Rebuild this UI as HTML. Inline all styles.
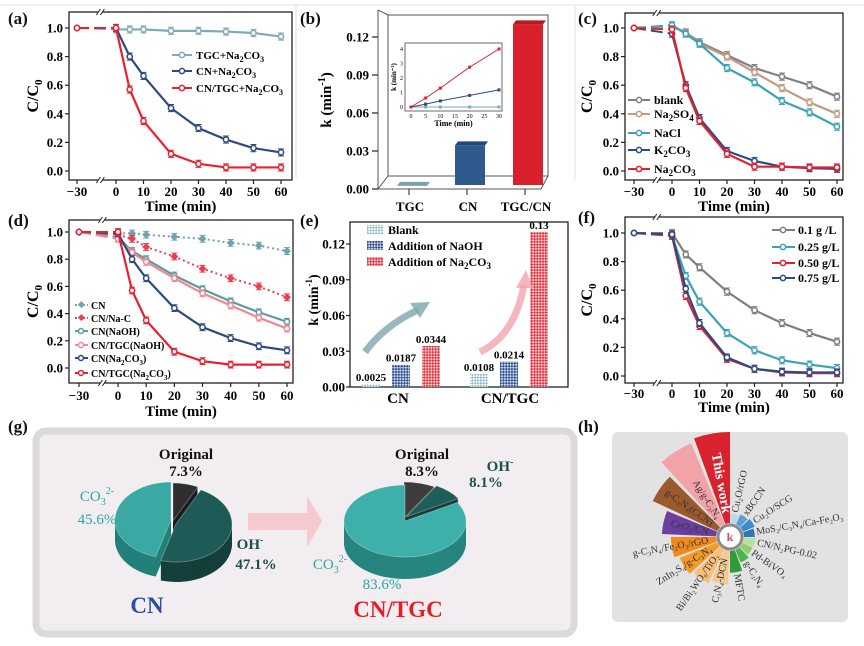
<!DOCTYPE html>
<html><head><meta charset="utf-8"><style>
body{margin:0;background:#fff}
svg{display:block;font-family:"Liberation Serif",serif}
.b{font-weight:bold}
</style></head><body>
<svg id="fig" width="864" height="646" viewBox="0 0 864 646" xmlns="http://www.w3.org/2000/svg">
<defs>
<pattern id="pBlank" width="4" height="4" patternUnits="userSpaceOnUse" patternTransform="rotate(45)"><rect width="4" height="4" fill="#fff"/><rect width="2" height="2" fill="#8fbac4"/><rect x="2" y="2" width="2" height="2" fill="#8fbac4"/></pattern>
<pattern id="pNaOH" width="4" height="4" patternUnits="userSpaceOnUse" patternTransform="rotate(45)"><rect width="4" height="4" fill="#c8d3e8"/><rect width="2" height="2" fill="#2f4f8f"/><rect x="2" y="2" width="2" height="2" fill="#2f4f8f"/></pattern>
<pattern id="pNa2CO3" width="4" height="4" patternUnits="userSpaceOnUse" patternTransform="rotate(45)"><rect width="4" height="4" fill="#f6c9cc"/><rect width="2" height="2" fill="#e0303c"/><rect x="2" y="2" width="2" height="2" fill="#e0303c"/></pattern>
</defs>
<rect width="864" height="646" fill="#fff"/>
<g stroke="#e2e2e2" stroke-width="1" fill="none">
<line x1="0" y1="5" x2="864" y2="5"/><line x1="296" y1="5" x2="296" y2="180"/><line x1="575" y1="5" x2="575" y2="180"/>
</g>
<g class="b" font-size="17" fill="#111">
<text x="8" y="24">(a)</text>
<text x="300" y="24">(b)</text>
<text x="578" y="24">(c)</text>
<text x="8" y="226">(d)</text>
<text x="300" y="226">(e)</text>
<text x="578" y="223">(f)</text>
<text x="8" y="432">(g)</text>
<text x="578" y="432">(h)</text>
</g>
<g id="pa"></g>
<g id="pb"></g>
<g id="pc"></g>
<g id="pd"></g>
<g id="pe"></g>
<g id="pf"></g>

<g class="b" font-size="11">
<line x1="172" y1="55" x2="192" y2="55" stroke="#7fa9b3" stroke-width="2"/><circle cx="182" cy="55" r="2.6" fill="#fff" stroke="#7fa9b3" stroke-width="1.5"/>
<text x="196" y="59">TGC+Na<tspan dy="3" font-size="8">2</tspan><tspan dy="-3">CO</tspan><tspan dy="3" font-size="8">3</tspan></text>
<line x1="172" y1="71" x2="192" y2="71" stroke="#2f4a80" stroke-width="2"/><circle cx="182" cy="71" r="2.6" fill="#fff" stroke="#2f4a80" stroke-width="1.5"/>
<text x="196" y="75">CN+Na<tspan dy="3" font-size="8">2</tspan><tspan dy="-3">CO</tspan><tspan dy="3" font-size="8">3</tspan></text>
<line x1="172" y1="88" x2="192" y2="88" stroke="#e8202e" stroke-width="2"/><circle cx="182" cy="88" r="2.6" fill="#fff" stroke="#e8202e" stroke-width="1.5"/>
<text x="196" y="92">CN/TGC+Na<tspan dy="3" font-size="8">2</tspan><tspan dy="-3">CO</tspan><tspan dy="3" font-size="8">3</tspan></text>
</g>
<g class="b" font-size="12">
<line x1="628" y1="100" x2="650" y2="100" stroke="#808080" stroke-width="2"/><circle cx="639" cy="100" r="2.6" fill="#fff" stroke="#808080" stroke-width="1.5"/><text x="654" y="104">blank</text>
<line x1="628" y1="114" x2="650" y2="114" stroke="#c39a82" stroke-width="2"/><circle cx="639" cy="114" r="2.6" fill="#fff" stroke="#c39a82" stroke-width="1.5"/><text x="654" y="118">Na<tspan dy="3" font-size="9">2</tspan><tspan dy="-3">SO</tspan><tspan dy="3" font-size="9">4</tspan></text>
<line x1="628" y1="133" x2="650" y2="133" stroke="#3aa3b5" stroke-width="2"/><circle cx="639" cy="133" r="2.6" fill="#fff" stroke="#3aa3b5" stroke-width="1.5"/><text x="654" y="137">NaCl</text>
<line x1="628" y1="150" x2="650" y2="150" stroke="#2b4a86" stroke-width="2"/><circle cx="639" cy="150" r="2.6" fill="#fff" stroke="#2b4a86" stroke-width="1.5"/><text x="654" y="154">K<tspan dy="3" font-size="9">2</tspan><tspan dy="-3">CO</tspan><tspan dy="3" font-size="9">3</tspan></text>
<line x1="628" y1="169" x2="650" y2="169" stroke="#e3202c" stroke-width="2"/><circle cx="639" cy="169" r="2.6" fill="#fff" stroke="#e3202c" stroke-width="1.5"/><text x="654" y="173">Na<tspan dy="3" font-size="9">2</tspan><tspan dy="-3">CO</tspan><tspan dy="3" font-size="9">3</tspan></text>
</g>
<g class="b" font-size="10">
<line x1="75" y1="305" x2="88" y2="305" stroke="#6ea3ad" stroke-width="2" stroke-dasharray="2,2"/><rect x="78.5" y="302" width="5" height="5" fill="#6ea3ad" transform="rotate(45 81 305)"/><text x="91" y="309">CN</text>
<line x1="75" y1="318" x2="88" y2="318" stroke="#e8404e" stroke-width="2" stroke-dasharray="2,2"/><rect x="78.5" y="315" width="5" height="5" fill="#e8404e" transform="rotate(45 81 318)"/><text x="91" y="322">CN/Na-C</text>
<line x1="75" y1="331" x2="88" y2="331" stroke="#5a9aa5" stroke-width="2"/><circle cx="81" cy="331" r="2.5" fill="#fff" stroke="#5a9aa5" stroke-width="1.5"/><text x="91" y="335">CN(NaOH)</text>
<line x1="75" y1="345" x2="88" y2="345" stroke="#f08a90" stroke-width="2"/><circle cx="81" cy="345" r="2.5" fill="#fff" stroke="#f08a90" stroke-width="1.5"/><text x="91" y="349">CN/TGC(NaOH)</text>
<line x1="75" y1="358" x2="88" y2="358" stroke="#2f4a80" stroke-width="2"/><circle cx="81" cy="358" r="2.5" fill="#fff" stroke="#2f4a80" stroke-width="1.5"/><text x="91" y="362">CN(Na<tspan dy="3" font-size="7">2</tspan><tspan dy="-3">CO</tspan><tspan dy="3" font-size="7">3</tspan><tspan dy="-3">)</tspan></text>
<line x1="75" y1="373" x2="88" y2="373" stroke="#e8202e" stroke-width="2"/><circle cx="81" cy="373" r="2.5" fill="#fff" stroke="#e8202e" stroke-width="1.5"/><text x="91" y="377">CN/TGC(Na<tspan dy="3" font-size="7">2</tspan><tspan dy="-3">CO</tspan><tspan dy="3" font-size="7">3</tspan><tspan dy="-3">)</tspan></text>
</g>
<g class="b" font-size="12">
<line x1="772" y1="230" x2="795" y2="230" stroke="#7f7f7f" stroke-width="2"/><circle cx="783" cy="230" r="2.6" fill="#fff" stroke="#7f7f7f" stroke-width="1.5"/><text x="798" y="234">0.1 g /L</text>
<line x1="772" y1="247" x2="795" y2="247" stroke="#3aa3b5" stroke-width="2"/><circle cx="783" cy="247" r="2.6" fill="#fff" stroke="#3aa3b5" stroke-width="1.5"/><text x="798" y="251">0.25 g/L</text>
<line x1="772" y1="263" x2="795" y2="263" stroke="#e3202c" stroke-width="2"/><circle cx="783" cy="263" r="2.6" fill="#fff" stroke="#e3202c" stroke-width="1.5"/><text x="798" y="267">0.50 g/L</text>
<line x1="772" y1="278" x2="795" y2="278" stroke="#2b4a86" stroke-width="2"/><circle cx="783" cy="278" r="2.6" fill="#fff" stroke="#2b4a86" stroke-width="1.5"/><text x="798" y="282">0.75 g/L</text>
</g>
<g class="b" font-size="12">
<rect x="367" y="225" width="16" height="9" fill="url(#pBlank)"/><text x="388" y="234">Blank</text>
<rect x="367" y="241" width="16" height="9" fill="url(#pNaOH)"/><text x="388" y="250">Addition of NaOH</text>
<rect x="367" y="257" width="16" height="9" fill="url(#pNa2CO3)"/><text x="388" y="266">Addition of Na<tspan dy="3" font-size="9">2</tspan><tspan dy="-3">CO</tspan><tspan dy="3" font-size="9">3</tspan></text>
</g>
<g>
<path d="M365,352 Q385,325 418,310" fill="none" stroke="#7fa6ab" stroke-width="7" opacity="0.8"/>
<polygon points="430,302 410,303 420,318" fill="#7fa6ab" opacity="0.8"/>
<path d="M480,352 Q515,335 524,285" fill="none" stroke="#f2a4ad" stroke-width="7" opacity="0.8"/>
<polygon points="526,270 516,288 533,288" fill="#f2a4ad" opacity="0.8"/>
</g>

<rect x="36" y="431" width="538" height="203" rx="10" fill="#f2edf0" stroke="#dadada" stroke-width="7"/>
<g id="pg"></g>
<polygon points="248,513 307,513 307,496 322,521 307,547 307,530 248,530" fill="#f6c9cf"/>
<g class="b" font-size="15">
<text x="186" y="459" text-anchor="middle" fill="#111">Original</text>
<text x="186" y="476" text-anchor="middle" fill="#111">7.3%</text>
<text x="97" y="501" text-anchor="middle" fill="#2aa7a0" font-weight="normal">CO<tspan dy="4" font-size="10">3</tspan><tspan dy="-11" font-size="10">2-</tspan></text>
<text x="97" y="524" text-anchor="middle" fill="#2aa7a0" font-weight="normal">45.6%</text>
<text x="250" y="549" text-anchor="middle" fill="#1d4f4b">OH<tspan dy="-6" font-size="10">-</tspan></text>
<text x="256" y="569" text-anchor="middle" fill="#1d4f4b">47.1%</text>
<text x="422" y="459" text-anchor="middle" fill="#111">Original</text>
<text x="422" y="476" text-anchor="middle" fill="#111">8.3%</text>
<text x="500" y="471" text-anchor="middle" fill="#1d4f4b">OH<tspan dy="-6" font-size="10">-</tspan></text>
<text x="486" y="487" text-anchor="middle" fill="#1d4f4b">8.1%</text>
<text x="330" y="569" text-anchor="middle" fill="#2aa7a0" font-weight="normal">CO<tspan dy="4" font-size="10">3</tspan><tspan dy="-11" font-size="10">2-</tspan></text>
<text x="382" y="589" text-anchor="middle" fill="#2aa7a0" font-weight="normal">83.6%</text>
<text x="147" y="613" text-anchor="middle" fill="#2b4f9e" font-size="23">CN</text>
<text x="398" y="617" text-anchor="middle" fill="#e81c24" font-size="23">CN/TGC</text>
</g>

<rect x="612" y="432" width="236" height="190" rx="6" fill="#e2e2e2"/>
<g id="ph"></g>
</svg>
<script>
const SVGNS='http://www.w3.org/2000/svg';
function mk(tag,o,parent){const e=document.createElementNS(SVGNS,tag);for(const k in o)e.setAttribute(k,o[k]);parent.appendChild(e);return e;}

const times=[-30,0,5,10,20,30,40,50,60];
const yTicks=[0,0.2,0.4,0.6,0.8,1.0];
const xTicks=[-30,0,10,20,30,40,50,60];
const aTGC=[1,0.99,0.99,0.99,0.98,0.98,0.975,0.965,0.94];
const aCN=[1,1,0.8,0.665,0.44,0.3,0.22,0.16,0.13];
const aCNTGC=[1,1,0.57,0.35,0.12,0.05,0.025,0.025,0.025];
const cBlank=[1,1.01,0.97,0.9,0.81,0.72,0.66,0.6,0.52];
const cNa2SO4=[1,1.01,0.97,0.89,0.8,0.69,0.58,0.48,0.4];
const cNaCl=[1,1.02,0.96,0.89,0.72,0.62,0.49,0.41,0.31];
const cK2CO3=[1,0.96,0.6,0.37,0.14,0.07,0.03,0.02,0.015];
const cNa2CO3=[1,0.99,0.58,0.35,0.12,0.03,0.03,0.025,0.025];
const dCN=[1,0.99,0.99,0.98,0.965,0.95,0.92,0.9,0.86];
const dCNNaC=[1,0.98,0.95,0.89,0.82,0.73,0.66,0.6,0.52];
const dCNNaOH=[1,0.96,0.86,0.8,0.68,0.58,0.49,0.41,0.34];
const dCNTGCNaOH=[1,0.95,0.85,0.78,0.66,0.55,0.46,0.37,0.29];
const dCNNa2CO3=[1,0.99,0.8,0.66,0.44,0.3,0.22,0.16,0.13];
const dCNTGCNa2CO3=[1,1,0.57,0.35,0.12,0.05,0.025,0.025,0.025];
const f01=[1,1,0.85,0.76,0.59,0.46,0.37,0.3,0.24];
const f025=[1,0.98,0.7,0.52,0.3,0.18,0.11,0.08,0.055];
const f050=[1,0.98,0.56,0.35,0.12,0.05,0.025,0.02,0.02];
const f075=[1,0.99,0.61,0.37,0.13,0.05,0.03,0.025,0.025];
const bCats=['TGC','CN','TGC/CN'];
const bK=[0.0025,0.0344,0.13];
const bTicks=[0,0.03,0.06,0.09,0.12];
const insetT=[0,5,10,20,30];
const insetRed=[0,0.62,1.3,2.75,4.0];
const insetNavy=[0,0.2,0.42,0.8,1.18];
const insetTeal=[0,0,0,0,0];
const eGroups=['CN','CN/TGC'];
const eBlank=[0.0025,0.0108];
const eNaOH=[0.0187,0.0214];
const eNa2CO3=[0.0344,0.13];
const eBlankLbl=['0.0025','0.0108'];
const eNaOHLbl=['0.0187','0.0214'];
const eNa2CO3Lbl=['0.0344','0.13'];
const pieCN=[7.3,47.1,45.6];
const pieCNTGC=[8.3,8.1,83.6];
const roseNames=['This work','Cu₂O/rGO','xBCCN','Cu₂O/SCG','MoS₂/C₃N₄/Ca-Fe₂O₃','CN/N₂PG-0.02','Pd-BiVO₄','g-C₃N₄','MFTC','C₃N₄-DCN','Bi/Bi₂WO₆/TiO₂','ZnIn₂S₄/g-C₃N₄','g-C₃N₄/Fe₂O₃/rGO','CeO₂/CN','g-C₃N₄(CCN)','Ag/g-C₃N₄'];
const roseK=[1.0,0.09,0.11,0.13,0.11,0.12,0.11,0.14,0.23,0.36,0.4,0.44,0.49,0.59,0.78,0.96];

function lineChart(gid,P,series){
  const g=document.getElementById(gid);
  const xs=t=>t<0?P.xm+(t+30)/30*(P.x0-P.xm):P.x0+t/60*(P.x60-P.x0);
  const ys=v=>P.y0+v*(P.y1-P.y0);
  const fr=mk('rect',{x:P.L,y:P.T,width:P.R-P.L,height:P.B-P.T,fill:'none',stroke:'#222','stroke-width':1.3},g);
  
  
  yTicks.forEach(v=>{
    const tk=mk('line',{x1:P.L-4,x2:P.L,y1:ys(v),y2:ys(v),stroke:'#222','stroke-width':1.2},g);
    
    
    const tl=mk('text',{x:P.L-6,y:ys(v)+4.5,'text-anchor':'end','font-size':13,'font-weight':'bold'},g);
    tl.textContent=v.toFixed(1);
    
    
  });
  xTicks.forEach(t=>{
    const tk=mk('line',{x1:xs(t),x2:xs(t),y1:P.B,y2:P.B+4,stroke:'#222','stroke-width':1.2},g);
    
    
    const tl=mk('text',{x:xs(t),y:P.lab,'text-anchor':'middle','font-size':13,'font-weight':'bold'},g);
    tl.textContent=t<0?'\u221230':String(t);
    
    
  });
  const bx=P.xm+0.6*(P.x0-P.xm);
  [P.T,P.B].forEach(yy=>{
    const w=mk('rect',{x:bx-2,y:yy-2,width:4,height:4,fill:'#fff'},g);
    
    
    const br=mk('path',{d:`M${bx-4},${yy+3}L${bx},${yy-3}M${bx},${yy+3}L${bx+4},${yy-3}`,stroke:'#222','stroke-width':1,fill:'none'},g);
    
    
  });
  const xt=mk('text',{x:(P.L+P.R)/2,y:P.tit,'text-anchor':'middle','font-size':15,'font-weight':'bold'},g);
  xt.textContent='Time (min)';
  
  
  const yt=mk('text',{x:0,y:0,'text-anchor':'middle','font-size':16,'font-weight':'bold',transform:`translate(${P.ytx},${(P.T+P.B)/2}) rotate(-90)`},g);
  yt.innerHTML='C/C<tspan dy="4" font-size="11">0</tspan>';
  
  
  series.forEach(s=>{
    const pts=times.map((t,i)=>[xs(t),ys(s.v[i])]);
    const d0=mk('line',{x1:pts[0][0],y1:pts[0][1],x2:pts[1][0],y2:pts[1][1],stroke:s.c,'stroke-width':2,'stroke-dasharray':'12,5'},g);
    
    
    const ln=mk('polyline',{points:pts.slice(1).map(p=>p.join(',')).join(' '),fill:'none',stroke:s.c,'stroke-width':s.dot?2:2.2,'stroke-dasharray':s.dot?'2,3':'none'},g);
    
    
    pts.forEach((p,i)=>{
      if(i>0){
        const e=mk('path',{d:`M${p[0]},${ys(s.v[i]+0.025)}V${ys(s.v[i]-0.025)}M${p[0]-3},${ys(s.v[i]+0.025)}h6M${p[0]-3},${ys(s.v[i]-0.025)}h6`,stroke:s.c,'stroke-width':1,fill:'none'},g);
        
        
      }
      let m;
      if(s.dot){m=mk('rect',{x:p[0]-2.8,y:p[1]-2.8,width:5.6,height:5.6,fill:s.c,transform:`rotate(45 ${p[0]} ${p[1]})`},g);}
      else{m=mk('circle',{cx:p[0],cy:p[1],r:2.6,fill:'#fff',stroke:s.c,'stroke-width':1.5},g);}
      
      
    });
  });
}
lineChart('pa',{L:69,R:292,T:12,B:180,xm:77,x0:116,x60:281,y0:171,y1:28,lab:196,tit:211,ytx:38},
  [{v:aTGC,c:'#7fa9b3'},{v:aCN,c:'#2f4a80'},{v:aCNTGC,c:'#e8202e'}]);
lineChart('pc',{L:625,R:843,T:13,B:180,xm:634,x0:672,x60:837,y0:171,y1:28,lab:196,tit:211,ytx:592},
  [{v:cBlank,c:'#808080'},{v:cNa2SO4,c:'#c39a82'},{v:cNaCl,c:'#3aa3b5'},{v:cK2CO3,c:'#2b4a86'},{v:cNa2CO3,c:'#e3202c'}]);
lineChart('pd',{L:69,R:293,T:220,B:383,xm:79,x0:118,x60:287,y0:368,y1:232,lab:400,tit:416,ytx:38},
  [{v:dCN,c:'#6ea3ad',dot:true},{v:dCNNaC,c:'#e8404e',dot:true},{v:dCNNaOH,c:'#5a9aa5'},{v:dCNTGCNaOH,c:'#f08a90'},{v:dCNNa2CO3,c:'#2f4a80'},{v:dCNTGCNa2CO3,c:'#e8202e'}]);
lineChart('pf',{L:625,R:843,T:217,B:383,xm:634,x0:672,x60:837,y0:376,y1:233,lab:398,tit:412,ytx:592},
  [{v:f01,c:'#7f7f7f'},{v:f025,c:'#3aa3b5'},{v:f050,c:'#e3202c'},{v:f075,c:'#2b4a86'}]);

(function(){
  const g=document.getElementById('pb');
  const yb=v=>189-v/0.03*38;
  const frame=mk('path',{d:'M378,10V189H541L548,176V15H388V176H548M388,176L378,189M378,10L388,15',fill:'none',stroke:'#555','stroke-width':1},g);
  
  
  bTicks.forEach(v=>{
    const tk=mk('line',{x1:372,x2:378,y1:yb(v),y2:yb(v),stroke:'#222','stroke-width':1.2},g);
    
    
    const tl=mk('text',{x:369,y:yb(v)+4.5,'text-anchor':'end','font-size':13,'font-weight':'bold'},g);
    tl.textContent=v.toFixed(2);
    
    
  });
  const yt=mk('text',{'text-anchor':'middle','font-size':15,'font-weight':'bold',transform:'translate(331,100) rotate(-90)'},g);
  yt.innerHTML='k (min<tspan dy="-6" font-size="10">-1</tspan><tspan dy="6">)</tspan>';
  
  
  const cols=['#5e8c97','#2f5a8e','#d9202b'],tops=['#7aa3ad','#25487a','#b81a24'];
  bCats.forEach((c,i)=>{
    const xc=412+i*58,w=30,x=xc-w/2,y=yb(bK[i]);
    const f=mk('rect',{x:x,y:y,width:w,height:189-4-y,fill:cols[i]},g);
    
    
    const tp=mk('polygon',{points:`${x},${y} ${x+w},${y} ${x+w+3},${y-4} ${x+3},${y-4}`,fill:tops[i]},g);
    
    
    const tk=mk('line',{x1:xc-3,x2:xc-3,y1:189,y2:195,stroke:'#222'},g);
    
    
    const tl=mk('text',{x:xc-2,y:211,'text-anchor':'middle','font-size':13,'font-weight':'bold'},g);
    tl.textContent=c;
    
    
  });
  const L=405,R=502,T=43,B=111;
  const ix=t=>L+6+t/30*(R-L-9), iy=v=>B-4-v/4*(B-T-10);
  const ir=mk('rect',{x:L,y:T,width:R-L,height:B-T,fill:'#fff',stroke:'#444','stroke-width':0.8},g);
  
  
  [0,5,10,15,20,25,30].forEach(t=>{
    const tl=mk('text',{x:ix(t),y:B+7,'text-anchor':'middle','font-size':6},g);
    tl.textContent=t;
    
    
  });
  [0,1,2,3,4].forEach(v=>{
    const tl=mk('text',{x:L-2,y:iy(v)+2,'text-anchor':'end','font-size':6},g);
    tl.textContent=v;
    
    
  });
  const ixt=mk('text',{x:(L+R)/2,y:B+15,'text-anchor':'middle','font-size':8,'font-weight':'bold'},g);
  ixt.textContent='Time (min)';
  
  
  const iyt=mk('text',{'text-anchor':'middle','font-size':7,'font-weight':'bold',transform:`translate(${L-9},${(T+B)/2}) rotate(-90)`},g);
  iyt.textContent='k (min⁻¹)';
  
  
  [[insetTeal,'#7fa9b3'],[insetNavy,'#2f4a80'],[insetRed,'#d9202b']].forEach(([arr,c])=>{
    const pl=mk('polyline',{points:insetT.map((t,i)=>ix(t)+','+iy(arr[i])).join(' '),fill:'none',stroke:c,'stroke-width':1},g);
    
    
    insetT.forEach((t,i)=>{
      const p=mk('rect',{x:ix(t)-1.5,y:iy(arr[i])-1.5,width:3,height:3,fill:c},g);
      
      
    });
  });
})();

(function(){
  const g=document.getElementById('pe');
  const L=350,R=568,T=222,B=387;
  const ye=v=>B-v/0.03*35.75;
  const fr=mk('rect',{x:L,y:T,width:R-L,height:B-T,fill:'none',stroke:'#222','stroke-width':1.3},g);
  
  
  bTicks.forEach(v=>{
    const tk=mk('line',{x1:L-4,x2:L,y1:ye(v),y2:ye(v),stroke:'#222','stroke-width':1.2},g);
    
    
    const tl=mk('text',{x:L-5,y:ye(v)+4.5,'text-anchor':'end','font-size':13,'font-weight':'bold'},g);
    tl.textContent=v.toFixed(2);
    
    
  });
  const yt=mk('text',{'text-anchor':'middle','font-size':14,'font-weight':'bold',transform:'translate(318,300) rotate(-90)'},g);
  yt.innerHTML='k (min<tspan dy="-6" font-size="9">-1</tspan><tspan dy="6">)</tspan>';
  
  
  const centers=[401,509];
  const sets=[[eBlank,eBlankLbl,'url(#pBlank)',-30,'blank'],[eNaOH,eNaOHLbl,'url(#pNaOH)',0,'naoh'],[eNa2CO3,eNa2CO3Lbl,'url(#pNa2CO3)',30,'na2co3']];
  eGroups.forEach((grp,gi)=>{
    sets.forEach(([vals,lbls,fill,off,nm])=>{
      const x=centers[gi]+off-9,y=ye(vals[gi]);
      const r=mk('rect',{x:x,y:y,width:18,height:B-y,fill:fill},g);
      
      
      const t=mk('text',{x:x+9,y:y-3,'text-anchor':'middle','font-size':11,'font-weight':'bold'},g);
      t.textContent=lbls[gi];
      
      
    });
    const cl=mk('text',{x:centers[gi]-3+(gi?4:0),y:403,'text-anchor':'middle','font-size':15,'font-weight':'bold'},g);
    cl.textContent=grp;
    
    
  });
})();

function pie(cx,cy,rx,ry,depth,vals,tops,sides,offs){
  const g=document.getElementById('pg');
  const tot=vals.reduce((a,b)=>a+b,0);
  let a=-Math.PI/2;const segs=[];
  vals.forEach((v,i)=>{const a2=a+v/tot*2*Math.PI;segs.push([a,a2]);a=a2;});
  const sector=(s,dy,i)=>{
    const [a1,a2]=s,ox=offs[i][0],oy=offs[i][1]+dy;
    const x1=cx+ox+rx*Math.cos(a1),y1=cy+oy+ry*Math.sin(a1),x2=cx+ox+rx*Math.cos(a2),y2=cy+oy+ry*Math.sin(a2);
    return `M${cx+ox},${cy+oy}L${x1},${y1}A${rx},${ry} 0 ${a2-a1>Math.PI?1:0} 1 ${x2},${y2}Z`;
  };
  for(let d=depth;d>0;d--){
    segs.forEach((s,i)=>{
      const p=mk('path',{d:sector(s,d,i),fill:sides[i]},g);
      
      
    });
  }
  segs.forEach((s,i)=>{
    const p=mk('path',{d:sector(s,0,i),fill:tops[i],stroke:'#ffffff','stroke-opacity':0.35,'stroke-width':0.8},g);
    
    
  });
}
pie(173,521,56,38,20,pieCN,['#2e2e2e','#1f5b56','#3aa9a3'],['#1a1a1a','#143f3b','#23807a'],[[0,0],[3,3],[-2,-1]]);
pie(404,518,61,36,22,pieCNTGC,['#3c3c3c','#1e5e58','#3db0aa'],['#222','#163f3b','#27857f'],[[0,0],[2,-1],[1,3]]);

(function(){
  const g=document.getElementById('ph');
  const cx=730,cy=537;
  const cols=['#d8232e','#bcd6ec','#5aa0d8','#3c8cc8','#2b78b8','#b8e0a0','#8fcf6f','#4db34a','#2e9a3c','#f4c890','#f6c07a','#f39a2a','#f08a1c','#6a3fa0','#9b5a2e','#f2a3a8'];
  const rs=v=>15+v*90;
  roseK.forEach((v,i)=>{
    const ac=-100+i*22.5, w=10;
    const a1=(ac-w)*Math.PI/180,a2=(ac+w)*Math.PI/180,r=rs(v),r0=14;
    const d=`M${cx+r0*Math.cos(a1)},${cy+r0*Math.sin(a1)}L${cx+r*Math.cos(a1)},${cy+r*Math.sin(a1)}A${r},${r} 0 0 1 ${cx+r*Math.cos(a2)},${cy+r*Math.sin(a2)}L${cx+r0*Math.cos(a2)},${cy+r0*Math.sin(a2)}A${r0},${r0} 0 0 0 ${cx+r0*Math.cos(a1)},${cy+r0*Math.sin(a1)}Z`;
    const p=mk('path',{d:d,fill:cols[i]},g);
    
    
  });
  roseK.forEach((v,i)=>{
    let ac=-100+i*22.5; const rad=ac*Math.PI/180;
    const left=Math.cos(rad)<0;
    const rr=i===0?24:(v>0.3?22:rs(v)+2);
    const x=cx+rr*Math.cos(rad),y=cy+rr*Math.sin(rad);
    const rot=left?ac+180:ac;
    const t=mk('text',{x:x,y:y,'text-anchor':left?'end':'start','dominant-baseline':'central','font-size':i===0?14:10,'font-weight':i===0?'bold':'normal',fill:i===0?'#fff':'#333',transform:`rotate(${rot} ${x} ${y})`},g);
    t.textContent=roseNames[i];
    
    
  });
  const c=mk('circle',{cx:cx,cy:cy,r:12,fill:'#fff',stroke:'#8a8a8a','stroke-width':3},g);
  
  
  const k=mk('text',{x:cx,y:cy+4,'text-anchor':'middle','font-size':12,'font-weight':'bold',fill:'#e0407a'},g);
  k.textContent='k';
  
  
})();
</script>
</body></html>
